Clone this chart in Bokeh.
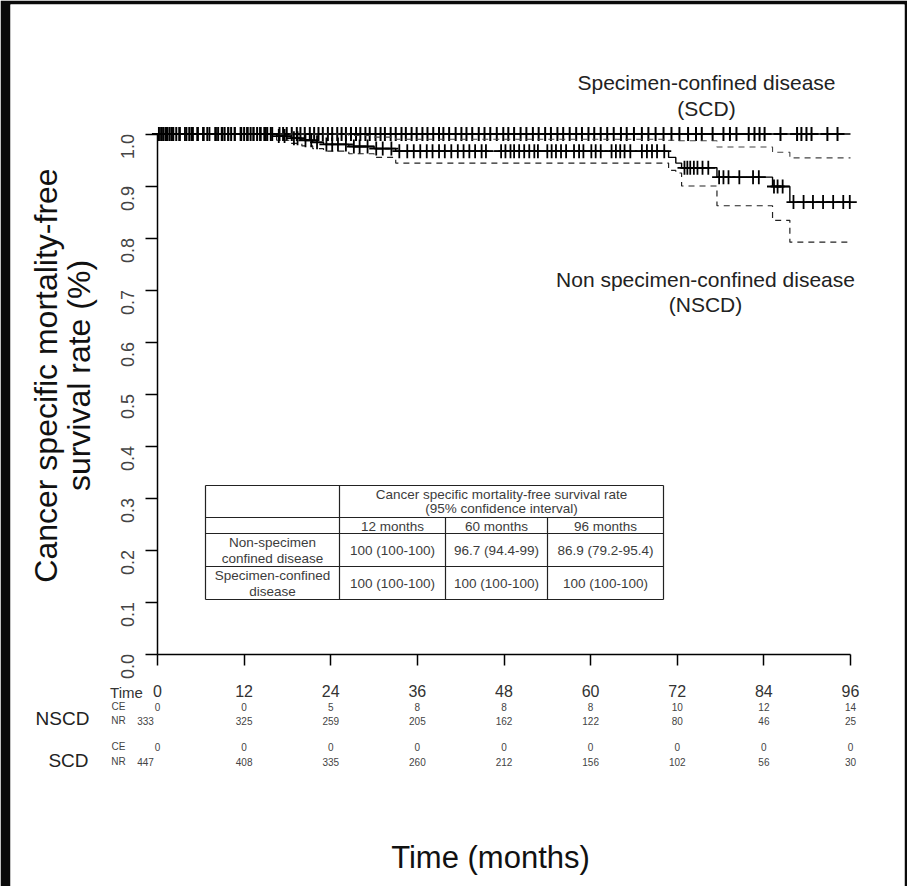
import numpy as np
from bokeh.plotting import figure
from bokeh.models import LinearAxis, FixedTicker, PrintfTickFormatter, Range1d, ColumnDataSource
from bokeh.core.properties import value
from bokeh.embed import file_html
from bokeh.resources import INLINE

# ---------------- data ----------------
tick_months = [0, 12, 24, 36, 48, 60, 72, 84, 96]
y_ticks = [0.0, 0.1, 0.2, 0.3, 0.4, 0.5, 0.6, 0.7, 0.8, 0.9, 1.0]

nscd_ce = [0, 0, 5, 8, 8, 8, 10, 12, 14]
nscd_nr = [333, 325, 259, 205, 162, 122, 80, 46, 25]
scd_ce = [0, 0, 0, 0, 0, 0, 0, 0, 0]
scd_nr = [447, 408, 335, 260, 212, 156, 102, 56, 30]

followup_end = 96

nscd_event_t = [16.5, 18.5, 20.0, 21.5, 23.0, 26.5, 30.0, 33.0, 70.8, 71.8, 72.6, 77.5, 85.2, 87.6]
nscd_surv = [0.996, 0.992, 0.988, 0.984, 0.980, 0.976, 0.972, 0.967, 0.955, 0.944, 0.935, 0.917, 0.899, 0.869]
nscd_upper = [1.0, 1.0, 1.0, 1.0, 1.0, 0.997, 0.994, 0.990, 0.988, 0.987, 0.987, 0.975, 0.965, 0.954]
nscd_lower = [0.988, 0.982, 0.977, 0.972, 0.967, 0.962, 0.955, 0.944, 0.930, 0.925, 0.900, 0.862, 0.834, 0.792]

nscd_censor_t = [0.6, 1.3, 2.2, 3.0, 3.8, 4.7, 5.5, 6.3, 7.2, 8.1, 9.0, 9.8, 10.7, 11.5, 12.4, 13.3,
                 14.2, 15.0, 15.9, 16.8, 17.6, 18.9, 19.4, 20.5, 21.3, 22.1, 23.4, 24.2, 25.0, 26.1,
                 27.2, 28.0, 29.1, 30.3, 31.2, 32.4, 33.5, 34.6, 35.5, 36.4, 37.3, 38.1, 39.0, 39.8,
                 40.7, 41.6, 42.4, 43.2, 44.0, 44.9, 45.5, 47.6, 48.2, 48.9, 49.4, 50.1, 50.8, 51.5,
                 52.2, 52.7, 54.0, 54.6, 55.2, 55.9, 56.6, 57.7, 58.4, 59.0, 60.1, 60.7, 61.4, 62.9,
                 63.5, 64.1, 64.7, 65.5, 67.1, 67.8, 68.5, 69.2, 70.2, 73.0, 73.4, 73.8, 74.3, 74.8,
                 75.5, 76.3, 77.8, 78.4, 79.1, 80.6, 82.5, 83.3, 85.4, 85.9, 86.6, 88.1, 89.5, 90.8,
                 92.2, 93.6, 95.0, 95.9]

scd_censor_t = [0.2, 0.5, 0.8, 1.1, 1.4, 1.7, 2.0, 2.6, 3.1, 4.0, 4.4, 4.9, 5.6, 6.4, 6.9, 8.0, 8.4,
                8.9, 9.3, 9.8, 10.2, 10.7, 11.6, 12.0, 12.5, 12.9, 13.3, 13.8, 14.3, 14.8, 15.2, 15.7,
                16.9, 17.4, 17.9, 18.6, 19.3, 19.8, 20.4, 21.1, 21.7, 22.3, 22.9, 23.6, 24.2, 24.9,
                25.5, 26.1, 26.8, 27.5, 28.1, 28.8, 29.4, 30.2, 30.9, 31.5, 32.3, 33.0, 33.8, 34.4,
                35.2, 35.9, 36.7, 37.4, 38.2, 39.0, 39.6, 40.4, 41.3, 42.1, 42.8, 43.6, 44.5, 45.3,
                46.1, 47.0, 47.9, 48.6, 49.4, 50.3, 51.1, 52.0, 52.8, 53.7, 54.5, 55.4, 56.2, 57.1,
                58.0, 58.8, 59.7, 60.5, 61.4, 62.3, 63.2, 64.2, 65.0, 66.0, 67.1, 68.0, 69.0, 70.1,
                71.2, 72.3, 73.5, 74.6, 75.4, 76.9, 78.4, 79.3, 80.2, 81.9, 82.7, 83.4, 84.1, 86.3,
                88.6, 89.2, 89.9, 90.6, 92.8, 94.2]

table_months = ["12 months", "60 months", "96 months"]
table_groups = [["Non-specimen", "confined disease"], ["Specimen-confined", "disease"]]
table_values = [["100 (100-100)", "96.7 (94.4-99)", "86.9 (79.2-95.4)"],
                ["100 (100-100)", "100 (100-100)", "100 (100-100)"]]
table_header = ["Cancer specific mortality-free survival rate", "(95% confidence interval)"]

# ---------------- layout helpers (pixel -> data) ----------------
X0_PX, PX_PER_MONTH = 157.0, 693.0 / 96.0
Y0_PX, PX_PER_UNIT = 653.5, 520.0


def dx(px):
    return (px - X0_PX) / PX_PER_MONTH


def dy(py):
    return (Y0_PX - py) / PX_PER_UNIT


FONT = "Liberation Sans"
W, H = 907, 886
L, R, T = 10, 3, 4

p = figure(width=W, height=H, output_backend="svg", toolbar_location=None,
           x_axis_type=None, y_axis_type=None,
           x_range=Range1d(dx(L), dx(W - R)), y_range=Range1d(dy(H), dy(T)),
           min_border_left=L, min_border_right=R, min_border_top=T, min_border_bottom=0)
p.border_fill_color = "#0a0a0a"
p.background_fill_color = "white"
p.outline_line_color = None

# axes
yax = LinearAxis(fixed_location=0, bounds=(0, 1), ticker=FixedTicker(ticks=y_ticks),
                 formatter=PrintfTickFormatter(format="%.1f"))
yax.major_tick_out = 12
yax.major_tick_in = 0
yax.minor_tick_out = 0
yax.minor_tick_in = 0
yax.major_label_orientation = np.pi / 2
yax.major_label_standoff = 18
yax.major_label_text_font = FONT
yax.major_label_text_font_size = "18px"
yax.major_label_text_color = "#444444"
yax.axis_line_width = 1.5
yax.major_tick_line_width = 1.5
p.add_layout(yax, "left")

xax = LinearAxis(fixed_location=0, bounds=(0, followup_end), ticker=FixedTicker(ticks=tick_months))
xax.major_tick_out = 11
xax.major_tick_in = 0
xax.minor_tick_out = 0
xax.minor_tick_in = 0
xax.major_label_standoff = 20
xax.major_label_text_font = FONT
xax.major_label_text_font_size = "16px"
xax.major_label_text_color = "#333333"
xax.axis_line_width = 1.5
xax.major_tick_line_width = 1.5
p.add_layout(xax, "below")

# ---------------- curves ----------------
def steps(vals, start=1.0):
    xs = [0.0] + list(nscd_event_t) + [followup_end]
    ys = [start] + list(vals) + [vals[-1]]
    return xs, ys


def surv_at(t_list):
    idx = np.searchsorted(np.array(nscd_event_t), np.array(t_list), side="right")
    vals = np.array([1.0] + list(nscd_surv))
    return vals[idx]


# SCD: no events
p.line([0, followup_end], [1.0, 1.0], line_color="black", line_width=1.3)
p.scatter(scd_censor_t, [1.0] * len(scd_censor_t), marker="cross", size=14,
          line_color="black", line_width=2.0)

# NSCD CIs
xs, ys = steps(nscd_upper)
p.step(xs, ys, mode="after", line_color="#444444", line_width=1.1, line_dash="6 5")
xs, ys = steps(nscd_lower)
p.step(xs, ys, mode="after", line_color="#222222", line_width=1.2, line_dash="6 5")
# NSCD estimate
xs, ys = steps(nscd_surv)
p.step(xs, ys, mode="after", line_color="black", line_width=1.4)
p.scatter(nscd_censor_t, surv_at(nscd_censor_t), marker="cross", size=14,
          line_color="black", line_width=1.8)

# ---------------- annotations ----------------
def txt(xpx, ypx, s, size, color="#222222", align="center", angle=0.0):
    p.text(x=[dx(xpx)], y=[dy(ypx)], text=[s], text_font=value(FONT), text_font_size=size,
           text_color=color, text_align=align, text_baseline="middle", angle=angle)


txt(706, 82, "Specimen-confined disease", "21px")
txt(706, 108, "(SCD)", "21px")
txt(705, 279, "Non specimen-confined disease", "21px")
txt(705, 304, "(NSCD)", "21px")

txt(45, 375, "Cancer specific mortality-free", "32px", color="#111111", angle=np.pi / 2)
txt(78, 375, "survival rate (%)", "32px", color="#111111", angle=np.pi / 2)
txt(490, 857, "Time (months)", "31px", color="#111111")

# risk table
txt(126, 692, "Time", "15px", color="#333333")
txt(62, 718, "NSCD", "19px", color="#222222")
txt(68, 760, "SCD", "19px", color="#222222")
for ypx, lab in [(706, "CE"), (720, "NR"), (746, "CE"), (761, "NR")]:
    txt(118, ypx, lab, "10px", color="#444444")

risk_rows = [(706, nscd_ce), (720, nscd_nr), (746, scd_ce), (761, scd_nr)]
for ypx, vals in risk_rows:
    shift = [-12 if (i == 0 and vals[0] > 0) else 0 for i in range(len(vals))]
    src = ColumnDataSource(dict(x=tick_months, y=[dy(ypx)] * len(vals),
                                t=[str(v) for v in vals], off=shift))
    p.text(x="x", y="y", text="t", x_offset="off", source=src, text_font=value(FONT),
           text_font_size="10px", text_color="#444444", text_align="center",
           text_baseline="middle")

# summary table
tx = [205, 339, 445, 547, 663]
ty = [485, 517, 533, 566, 599]
hx0, hx1, hy0, hy1 = [], [], [], []
for ypx in ty:
    hx0.append(dx(tx[0])); hx1.append(dx(tx[-1])); hy0.append(dy(ypx)); hy1.append(dy(ypx))
for xpx in [tx[0], tx[1], tx[-1]]:
    hx0.append(dx(xpx)); hx1.append(dx(xpx)); hy0.append(dy(ty[0])); hy1.append(dy(ty[-1]))
for xpx in [tx[2], tx[3]]:
    hx0.append(dx(xpx)); hx1.append(dx(xpx)); hy0.append(dy(ty[1])); hy1.append(dy(ty[-1]))
p.segment(x0=hx0, y0=hy0, x1=hx1, y1=hy1, line_color="#222222", line_width=1.2)

TF = "13.5px"
TC = "#3c3c3c"
hc = (tx[1] + tx[-1]) / 2
txt(hc, 494, table_header[0], TF, color=TC)
txt(hc, 508, table_header[1], TF, color=TC)
col_c = [(tx[i] + tx[i + 1]) / 2 for i in range(1, 4)]
for c, m in zip(col_c, table_months):
    txt(c, 525.5, m, TF, color=TC)
lab_c = (tx[0] + tx[1]) / 2
row_y = [(ty[2] + ty[3]) / 2, (ty[3] + ty[4]) / 2]
for r, (yc, grp, vals) in enumerate(zip(row_y, table_groups, table_values)):
    txt(lab_c, yc - 8, grp[0], TF, color=TC)
    txt(lab_c, yc + 8, grp[1], TF, color=TC)
    for c, v in zip(col_c, vals):
        txt(c, yc, v, TF, color=TC)

open("out.html", "w").write(file_html(p, INLINE))
